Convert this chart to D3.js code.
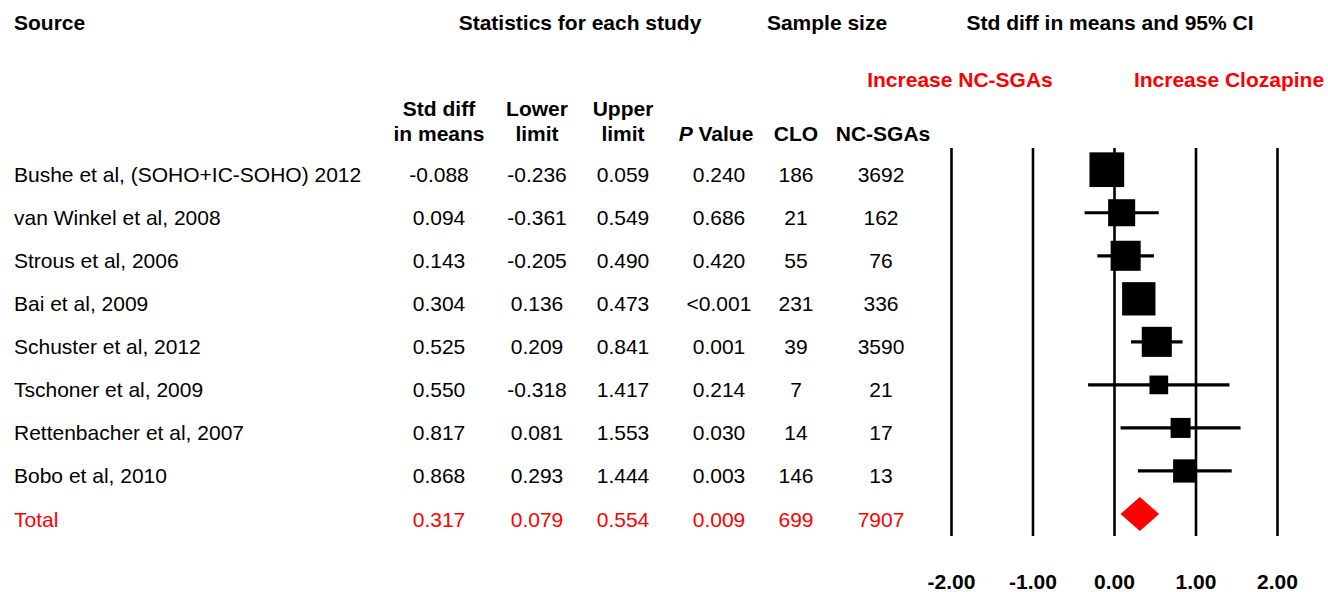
<!DOCTYPE html>
<html>
<head>
<meta charset="utf-8">
<script src="https://cdn.jsdelivr.net/npm/d3@7"></script>
<style>
  html, body { margin: 0; padding: 0; background: #fff; }
  svg { display: block; font-family: "Liberation Sans", Arial, sans-serif; }
</style>
</head>
<body>
<svg id="chart" width="1328" height="592"></svg>
<script>
// Study-level results
const studies = [
  "Bushe et al, (SOHO+IC-SOHO) 2012",
  "van Winkel et al, 2008",
  "Strous et al, 2006",
  "Bai et al, 2009",
  "Schuster et al, 2012",
  "Tschoner et al, 2009",
  "Rettenbacher et al, 2007",
  "Bobo et al, 2010"
];
const stdDiff = [-0.088, 0.094, 0.143, 0.304, 0.525, 0.550, 0.817, 0.868];
const lowerLimit = [-0.236, -0.361, -0.205, 0.136, 0.209, -0.318, 0.081, 0.293];
const upperLimit = [0.059, 0.549, 0.490, 0.473, 0.841, 1.417, 1.553, 1.444];
const pValues = ["0.240", "0.686", "0.420", "<0.001", "0.001", "0.214", "0.030", "0.003"];
const cloN = [186, 21, 55, 231, 39, 7, 14, 146];
const ncSgaN = [3692, 162, 76, 336, 3590, 21, 17, 13];
// relative weight (%) of each study in the pooled estimate
const weights = [19.6, 11.9, 14.7, 18.1, 14.7, 5.7, 6.5, 8.8];

// Pooled result
const totalLabel = "Total";
const totalStdDiff = 0.317;
const totalLower = 0.079;
const totalUpper = 0.554;
const totalP = "0.009";
const totalClo = 699;
const totalNcSga = 7907;

// Axis
const axisTicks = [-2, -1, 0, 1, 2];

const svg = d3.select("#chart");
// plain hyphen-minus for negative numbers
const locale = d3.formatLocale({ decimal: ".", thousands: ",", grouping: [3], currency: ["", ""], minus: "-" });
const fmt3 = locale.format(".3f");
const fmt2 = locale.format(".2f");
const black = "#000", red = "#ff0000";
const bodySize = 21, headSize = 21;

const rowKeys = d3.range(studies.length + 1);
const y = d3.scalePoint().domain(rowKeys).range([169.7, 514]);
const x = d3.scaleLinear().domain([-2, 2]).range([951, 1277]);
const boxSide = d3.scaleSqrt().domain([0, d3.max(weights)]).range([0, 34.7]);

const textDy = 12.5; // baseline offset from row centre

// Column centres of the statistics table
const cols = {
  sd: 439, lo: 537, up: 623, p: 719, clo: 796, nc: 881
};

// ---- headers ----
function head(txt, xx, yy, anchor, color) {
  return svg.append("text")
    .attr("x", xx).attr("y", yy)
    .attr("text-anchor", anchor || "middle")
    .attr("font-size", headSize).attr("font-weight", "bold")
    .attr("fill", color || black)
    .text(txt);
}
head("Source", 14, 30, "start");
head("Statistics for each study", 580, 30);
head("Sample size", 827, 30);
head("Std diff in means and 95% CI", 1110, 30);
head("Increase NC-SGAs", 960, 87, "middle", red);
head("Increase Clozapine", 1229, 87, "middle", red);

head("Std diff", cols.sd, 116);
head("in means", cols.sd, 141);
head("Lower", cols.lo, 116);
head("limit", cols.lo, 141);
head("Upper", cols.up, 116);
head("limit", cols.up, 141);
const pv = head("", cols.p - 3, 141);
pv.append("tspan").attr("font-style", "italic").text("P");
pv.append("tspan").text(" Value");
head("CLO", cols.clo, 141);
head("NC-SGAs", cols.nc + 2, 141);

// ---- table rows ----
const rows = studies.map((s, i) => ({
  name: s, sd: stdDiff[i], lo: lowerLimit[i], up: upperLimit[i],
  p: pValues[i], clo: cloN[i], nc: ncSgaN[i], w: weights[i], idx: i, total: false
}));
rows.push({
  name: totalLabel, sd: totalStdDiff, lo: totalLower, up: totalUpper,
  p: totalP, clo: totalClo, nc: totalNcSga, idx: studies.length, total: true
});

const rowG = svg.append("g").selectAll("g").data(rows).join("g")
  .attr("transform", d => `translate(0,${y(d.idx) + textDy})`)
  .attr("font-size", bodySize)
  .attr("fill", d => d.total ? red : black);

rowG.append("text").attr("x", 14).text(d => d.name);
const cells = [
  ["sd", d => fmt3(d.sd)], ["lo", d => fmt3(d.lo)], ["up", d => fmt3(d.up)],
  ["p", d => d.p], ["clo", d => d.clo], ["nc", d => d.nc]
];
cells.forEach(([k, f]) => {
  rowG.append("text").attr("x", cols[k]).attr("text-anchor", "middle").text(f);
});

// ---- forest plot ----
const yTop = 148, yBottom = 536;
const axis = d3.axisBottom(x)
  .tickValues(axisTicks)
  .tickFormat(fmt2)
  .tickSize(-(yBottom - yTop))
  .tickPadding(38);
const ax = svg.append("g").attr("transform", `translate(0,${yBottom})`).call(axis);
ax.select(".domain").remove();
ax.selectAll(".tick line").attr("stroke", black).attr("stroke-width", 2.6);
ax.selectAll(".tick text")
  .attr("font-family", "Liberation Sans, Arial, sans-serif")
  .attr("font-size", headSize).attr("font-weight", "bold").attr("fill", black);

const studyRows = rows.filter(d => !d.total);
const plotG = svg.append("g");
plotG.selectAll("line.ci").data(studyRows).join("line")
  .attr("class", "ci")
  .attr("x1", d => x(d.lo)).attr("x2", d => x(d.up))
  .attr("y1", d => y(d.idx)).attr("y2", d => y(d.idx))
  .attr("stroke", black).attr("stroke-width", 3.2);
plotG.selectAll("rect.box").data(studyRows).join("rect")
  .attr("class", "box")
  .attr("x", d => x(d.sd) - boxSide(d.w) / 2)
  .attr("y", d => y(d.idx) - boxSide(d.w) / 2)
  .attr("width", d => boxSide(d.w))
  .attr("height", d => boxSide(d.w))
  .attr("fill", black);

// pooled estimate diamond
const tot = rows[rows.length - 1];
const ty = y(tot.idx), half = 17;
plotG.append("path")
  .attr("d", `M${x(tot.lo)},${ty}L${x(tot.sd)},${ty - half}L${x(tot.up)},${ty}L${x(tot.sd)},${ty + half}Z`)
  .attr("fill", red);
</script>
</body>
</html>
